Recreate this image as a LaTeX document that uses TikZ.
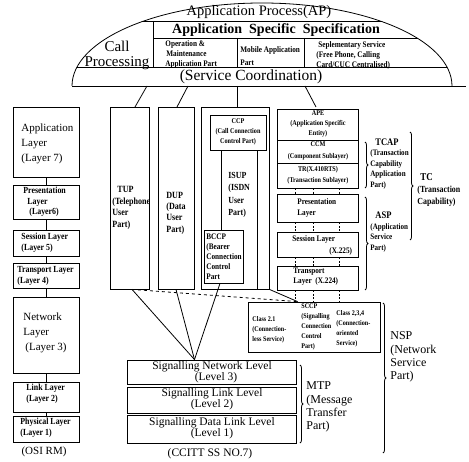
\documentclass[tikz,border=0pt]{standalone}
\usepackage{fontspec}
\setmainfont{Liberation Serif}
\newfontfamily\cond[FakeStretch=0.85]{Liberation Serif}
\usetikzlibrary{fit,decorations.pathreplacing}
\begin{document}
\begin{tikzpicture}[x=1pt,y=-1pt,line width=0.8pt,
  box/.style={draw,line width=0.8pt,inner sep=0pt},
  txt/.style={inner sep=0pt,align=left},
  ctxt/.style={inner sep=0pt,align=center},
  big/.style={font=\fontsize{11}{15}\selectfont},
  sm/.style={font=\cond\bfseries\fontsize{9.3}{11}\selectfont},
  xs/.style={font=\cond\bfseries\fontsize{7.3}{10.3}\selectfont},
  xxs/.style={font=\cond\bfseries\fontsize{7.2}{10}\selectfont},
  mtpf/.style={font=\fontsize{11.5}{11}\selectfont},
  lab/.style={font=\fontsize{12}{13.3}\selectfont},
  dots/.style={dash pattern=on 2pt off 1.5pt,line width=0.7pt},
  brc/.style={decorate,decoration={brace,amplitude=3pt},line width=0.8pt}]
\useasboundingbox (0,0) rectangle (469,462);

% ---------- dome ----------
\begin{scope}
  \clip (262,86) ellipse [x radius=190pt,y radius=83pt];
  \draw (0,21) -- (469,21);
  \draw (153,38) -- (469,38);
  \draw (0,67) -- (469,67);
  \draw (153,21) -- (153,67);
  \draw (237,38) -- (237,67);
  \draw (304,38) -- (304,67);
\end{scope}
\draw (72,86) arc[start angle=180,end angle=0,x radius=190pt,y radius=83pt];
\draw (72,86) -- (466,86);

\node[ctxt,font=\fontsize{14.5}{14}\selectfont] (ap) at (259,12.5) {Application Process(AP)};
\node[ctxt,font=\bfseries\fontsize{14}{14}\selectfont] (ass) at (276,30) {Application\ \ Specific\ \ Specification};
\node[ctxt,font=\fontsize{15}{15}\selectfont] (cp) at (117,55) {Call\\Processing};
\node[txt,anchor=west,font=\cond\bfseries\fontsize{8.5}{10}\selectfont] (oam) at (165,54) {Operation \&\\\hspace{1pt}Maintenance\\Application Part};
\node[txt,anchor=west,font=\cond\bfseries\fontsize{8.5}{13}\selectfont] (map) at (240,56.5) {Mobile Application\\Part};
\node[txt,anchor=west,font=\cond\bfseries\fontsize{8.5}{10}\selectfont] (sup) at (316,55) {\hspace{2pt}Seplementary Service\\(Free Phone, Calling\\Card/CUC Centralised)};
\node[ctxt,font=\fontsize{15.5}{14}\selectfont] (sc) at (251,77) {(Service Coordination)};

% ---------- OSI column ----------
\node[box,fit={(13,107) (79,177)}] (app) {};
\node[txt,big,anchor=west] (tapp) at (21,144) {Application\\Layer\\(Layer 7)};
\node[box,fit={(13,185) (79,219)}] (pres) {};
\node[txt,anchor=west,font=\cond\bfseries\fontsize{9.3}{10.5}\selectfont] (tpres) at (23,202) {Presentation\\\hspace{4pt}Layer\\\hspace{6pt}(Layer6)};
\node[box,fit={(13,230) (79,256)}] (ses) {};
\node[txt,sm,anchor=west] (tses) at (21,243) {Session Layer\\(Layer 5)};
\node[box,fit={(13,263) (79,288)}] (tra) {};
\node[txt,sm,anchor=west] (ttra) at (17,276) {Transport Layer\\(Layer 4)};
\node[box,fit={(13,297) (79,373)}] (net) {};
\node[txt,big,anchor=west] (tnet) at (23,333) {Network\\Layer\\\hspace{2pt}(Layer 3)};
\node[box,fit={(13,382) (79,412)}] (lnk) {};
\node[txt,sm,anchor=west] (tlnk) at (26,394) {Link Layer\\(Layer 2)};
\node[box,fit={(13,416) (79,442)}] (phy) {};
\node[txt,sm,anchor=west] (tphy) at (20,428) {Physical Layer\\(Layer 1)};
\node[ctxt,font=\fontsize{11}{11}\selectfont] (osi) at (44,452) {(OSI RM)};
\draw (app) -- (pres);
\draw (pres) -- (ses);
\draw (ses) -- (tra);
\draw (tra) -- (net);
\draw (net) -- (lnk);
\draw (lnk) -- (phy);

% ---------- user parts ----------
\node[box,fit={(110,107) (149,289)}] (tup) {};
\node[txt,anchor=west,font=\cond\bfseries\fontsize{9.5}{11.7}\selectfont] (ttup) at (112,208) {\hspace{5pt}TUP\\(Telephone\\User\\Part)};
\node[box,fit={(158,107) (194,289)}] (dup) {};
\node[txt,anchor=west,font=\cond\bfseries\fontsize{9.5}{11.3}\selectfont] (tdup) at (166,213) {DUP\\(Data\\User\\Part)};
\node[box,fit={(201,107) (269,289)}] (isup) {};
\node[box,fit={(210,115) (266,150)}] (ccp) {};
\node[ctxt,xs] (tccp) at (238,132) {CCP\\(Call Connection\\Control Part)};
\node[box,fit={(204,230) (243,283)}] (bccp) {};
\node[txt,anchor=west,font=\cond\bfseries\fontsize{8.5}{10}\selectfont] (tbccp) at (206,257) {BCCP\\(Bearer\\Connection\\Control\\Part};
\draw ([xshift=12pt]ccp.south west) -- ([xshift=18pt]bccp.north west);
\draw ([xshift=-9pt]ccp.south east) -- ([xshift=-12pt]isup.south east);
\node[txt,anchor=west,font=\cond\bfseries\fontsize{9.3}{12.3}\selectfont] (tisup) at (228,195) {ISUP\\(ISDN\\User\\Part)};

% connectors from dome
\coordinate (d1) at (147,86); \coordinate (e1) at (135,107);
\coordinate (d2) at (188,86); \coordinate (e2) at (177,107);
\coordinate (d3) at (237,86); \coordinate (e3) at (237,107);
\coordinate (d4) at (305,86); \coordinate (e4) at (316,107);
\draw (d1) -- (e1);
\draw (d2) -- (e2);
\draw (d3) -- (e3);
\draw (d4) -- (e4);

% ---------- TC stack ----------
\node[box,fit={(277,109) (358,140)}] (ape) {};
\node[ctxt,xs] (tape) at (318,124) {APE\\(Application Specific\\Entity)};
\node[box,fit={(277,140) (358,163)}] (ccm) {};
\node[ctxt,font=\cond\bfseries\fontsize{7.3}{12}\selectfont] (tccm) at (318,151) {CCM\\(Component Sublayer)};
\node[box,fit={(277,163) (358,188)}] (tr) {};
\node[ctxt,font=\cond\bfseries\fontsize{7.3}{11}\selectfont] (ttr) at (318,175) {TR(X.410RTS)\\(Transaction Sublayer)};
\node[box,fit={(277,194) (358,222)}] (apres) {};
\node[txt,anchor=west,font=\cond\bfseries\fontsize{8.5}{10.3}\selectfont] (tapres) at (297,208) {Presentation\\Layer};
\node[box,fit={(277,232) (358,257)}] (ases) {};
\node[txt,anchor=west,font=\cond\bfseries\fontsize{8.5}{10}\selectfont] (tases1) at (292,239) {Session Layer};
\node[txt,anchor=west,font=\cond\bfseries\fontsize{8.5}{10}\selectfont] (tases2) at (329,251) {(X.225)};
\node[box,fit={(277,266) (358,290)}] (atra) {};
\node[txt,anchor=west,font=\cond\bfseries\fontsize{8.5}{10}\selectfont] (tatra) at (293,277) {Transport\\Layer\ \ (X.224)};
\foreach \dx in {19,37,63}{
  \draw[dots] ([xshift=\dx pt]tr.south west) -- ([xshift=\dx pt]apres.north west);
  \draw[dots] ([xshift=\dx pt]apres.south west) -- ([xshift=\dx pt]ases.north west);
  \draw[dots] ([xshift=\dx pt]ases.south west) -- ([xshift=\dx pt]atra.north west);
}

% ---------- SCCP ----------
\node[box,fit={(248,302) (380,352)}] (sccp) {};
\foreach \dx in {19,37,63}{
  \draw[dots] ([xshift=\dx pt]atra.south west) -- ([xshift=\dx pt+29pt]sccp.north west);
}
\node[txt,xxs,anchor=west] (tc01) at (252,329.5) {Class 2.1\\(Connection-\\less Service)};
\node[txt,xxs,anchor=west] (tsccp) at (301,327) {SCCP\\(Signalling\\Connection\\Control\\Part)};
\node[txt,xxs,anchor=west] (tc234) at (336,328.5) {Class 2,3,4\\(Connection-\\oriented\\Service)};

% ---------- MTP ----------
\node[box,fit={(127,360) (296,384)}] (snl) {};
\node[ctxt,mtpf] (tsnl) at (212,372) {Signalling Network Level\\\hspace{8pt}(Level 3)};
\node[box,fit={(127,387) (296,413)}] (sll) {};
\node[ctxt,mtpf] (tsll) at (212,399.5) {Signalling Link Level\\(Level 2)};
\node[box,fit={(127,415) (296,443)}] (sdl) {};
\node[ctxt,mtpf] (tsdl) at (212,428.5) {Signalling Data Link Level\\(Level 1)};
\node[ctxt,font=\fontsize{11.5}{11}\selectfont] (ccitt) at (210,454) {(CCITT SS NO.7)};

\coordinate (conv) at ([xshift=-17pt]snl.north);
\draw ([xshift=2.5pt]tup.south) -- (conv);
\draw (dup.south) -- (conv);
\draw ([xshift=-3.5pt]bccp.south) -- (conv);
\draw[dashed] ([xshift=2.5pt]tup.south) -- ([xshift=50pt]sccp.north west);
\draw (isup.south east) -- ([xshift=50pt]sccp.north west);

% ---------- braces and labels ----------
\draw[brc] (365,142) -- (365,188);
\draw[brc] (365,197) -- (365,290);
\draw[brc] (410,132) -- (410,240);
\draw[brc] (300,365) -- (300,443);
\draw[brc] (383,303) -- (383,453);
\node[txt,anchor=west,font=\cond\bfseries\fontsize{8.3}{10.5}\selectfont] (ttcap) at (370,164) {\hspace{5pt}{\fontsize{10}{10}\selectfont TCAP}\\(Transaction\\Capability\\Application\\Part)};
\node[txt,anchor=west,font=\cond\bfseries\fontsize{8.3}{10.7}\selectfont] (tasp) at (370,232) {\hspace{5pt}{\fontsize{10}{10}\selectfont ASP}\\(Application\\Service\\Part)};
\node[txt,anchor=west,font=\cond\bfseries\fontsize{9.3}{12}\selectfont] (ttc) at (417,190) {\hspace{3pt}{\fontsize{10.5}{10}\selectfont TC}\\(Transaction\\Capability)};
\node[txt,lab,anchor=west] (tmtp) at (306,407) {MTP\\(Message\\Transfer\\Part)};
\node[txt,lab,anchor=west] (tnsp) at (390,357) {NSP\\(Network\\Service\\Part)};
\end{tikzpicture}
\end{document}
